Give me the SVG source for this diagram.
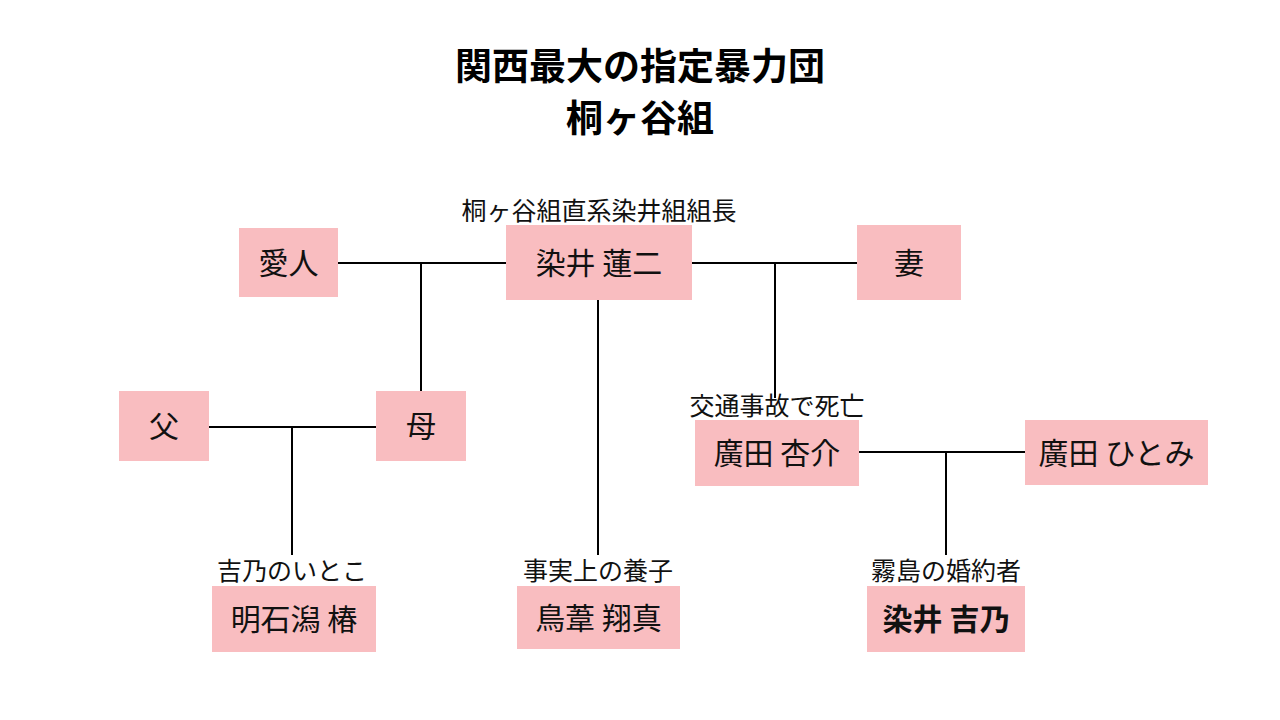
<svg xmlns="http://www.w3.org/2000/svg" width="1280" height="720" viewBox="0 0 1280 720">
<style>
.box{fill:#F9BDC0}
.t{font-family:"Noto Sans CJK JP","Noto Sans CJK SC",sans-serif;font-size:30px;fill:#111;text-anchor:middle;dominant-baseline:central}
.b{font-weight:bold}
.lab{font-family:"Noto Sans CJK JP","Noto Sans CJK SC",sans-serif;font-size:25px;fill:#111;text-anchor:middle;dominant-baseline:central}
.title{font-family:"Noto Sans CJK JP","Noto Sans CJK SC",sans-serif;font-size:37px;font-weight:bold;fill:#000;text-anchor:middle;dominant-baseline:central}
.ln{stroke:#000;stroke-width:2;fill:none}
</style>
<rect width="1280" height="720" fill="#fff"/>
<g id="title">
<text class="title" x="640" y="64">関西最大の指定暴力団</text>
<text class="title" x="640" y="116">桐ヶ谷組</text>
</g>
<g id="connectors">
<path class="ln" d="M338 263H506M421 263V391"/>
<path class="ln" d="M692 263H857M775 263V398"/>
<path class="ln" d="M598 300V555"/>
<path class="ln" d="M209 427H376M292 427V555"/>
<path class="ln" d="M859 452H1025M946 452V555"/>
</g>
<g id="n-aijin"><rect class="box" x="239" y="228" width="99" height="69"/><text class="t" x="288.5" y="260.5">愛人</text></g>
<g id="n-renji"><rect class="box" x="506" y="225" width="186" height="75"/><text class="t" x="599" y="260.5">染井 蓮二</text>
<text class="lab" x="599" y="209">桐ヶ谷組直系染井組組長</text></g>
<g id="n-tsuma"><rect class="box" x="857" y="225" width="104" height="75"/><text class="t" x="909" y="260.5">妻</text></g>
<g id="n-chichi"><rect class="box" x="119" y="391" width="90" height="70"/><text class="t" x="164" y="424">父</text></g>
<g id="n-haha"><rect class="box" x="376" y="391" width="90" height="70"/><text class="t" x="421" y="424">母</text></g>
<g id="n-kyosuke"><rect class="box" x="695" y="420" width="164" height="66"/><text class="t" x="777" y="451">廣田 杏介</text>
<text class="lab" x="777" y="404">交通事故で死亡</text></g>
<g id="n-hitomi"><rect class="box" x="1025" y="420" width="183" height="65"/><text class="t" x="1116.5" y="450.5">廣田 ひとみ</text></g>
<g id="n-tsubaki"><rect class="box" x="212" y="586" width="164" height="66"/><text class="t" x="294" y="617">明石潟 椿</text>
<text class="lab" x="292" y="569">吉乃のいとこ</text></g>
<g id="n-shoma"><rect class="box" x="517" y="586" width="163" height="63"/><text class="t" x="598.5" y="615.5">鳥葦 翔真</text>
<text class="lab" x="598" y="569">事実上の養子</text></g>
<g id="n-yoshino"><rect class="box" x="867" y="586" width="158" height="66"/><text class="t b" x="946" y="617">染井 吉乃</text>
<text class="lab" x="946" y="569">霧島の婚約者</text></g>
</svg>
